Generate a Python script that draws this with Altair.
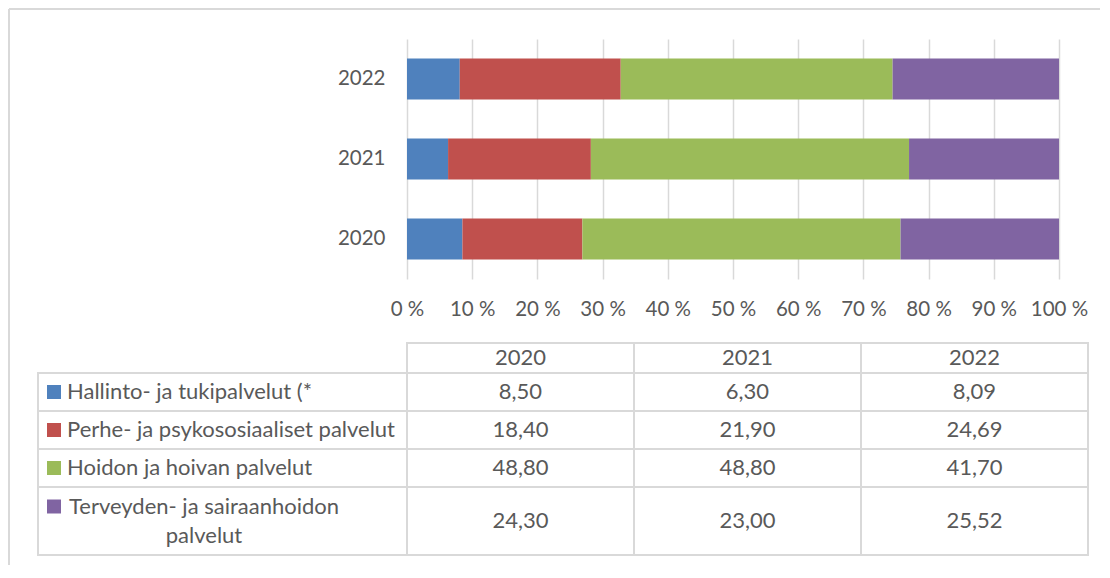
import altair as alt
import pandas as pd

# ---------------- data ----------------
years = ["2020", "2021", "2022"]
categories = [
    "Hallinto- ja tukipalvelut (*",
    "Perhe- ja psykososiaaliset palvelut",
    "Hoidon ja hoivan palvelut",
    "Terveyden- ja sairaanhoidon palvelut",
]
category_lines = [
    "Hallinto- ja tukipalvelut (*",
    "Perhe- ja psykososiaaliset palvelut",
    "Hoidon ja hoivan palvelut",
    "Terveyden- ja sairaanhoidon\npalvelut",
]
hallinto = [8.50, 6.30, 8.09]
perhe = [18.40, 21.90, 24.69]
hoidon = [48.80, 48.80, 41.70]
terveys = [24.30, 23.00, 25.52]
series = [hallinto, perhe, hoidon, terveys]
colors = ["#4f81bd", "#c0504d", "#9bbb59", "#8064a2"]
tick_values = [0, 0.1, 0.2, 0.3, 0.4, 0.5, 0.6, 0.7, 0.8, 0.9, 1.0]

# ---------------- layout / style ----------------
FONT = "Lato"
TXT = "#595959"
GRID = "#d9d9d9"
FS_AXIS = 20.5
FS_TAB = 22
PLOT_W, PLOT_H = 652, 240
TABLE_W = 681
LABEL_COL_W = 369
ROW_HEIGHTS = [30, 38, 38, 38, 68]   # header + 4 category rows
LINE_H = 29
TABLE_H = sum(ROW_HEIGHTS)

# long-form data for bars
rows = []
for ci, (cat, vals) in enumerate(zip(categories, series)):
    for yi, yr in enumerate(years):
        rows.append({"category": cat, "year": yr, "value": vals[yi], "order": ci})
df = pd.DataFrame(rows)

# table data
edges = [0]
for h in ROW_HEIGHTS:
    edges.append(edges[-1] + h)

cell_rows = []
for yi, yr in enumerate(years):
    cell_rows.append({"year": yr, "top": edges[0], "bottom": edges[1],
                      "mid": (edges[0] + edges[1]) / 2, "text": yr})
    for ci, vals in enumerate(series):
        t, b = edges[ci + 1], edges[ci + 2]
        cell_rows.append({"year": yr, "top": t, "bottom": b, "mid": (t + b) / 2,
                          "text": f"{vals[yi]:.2f}".replace(".", ",")})
cells = pd.DataFrame(cell_rows)

lab_rows = []
for ci, cat in enumerate(categories):
    t, b = edges[ci + 1], edges[ci + 2]
    nlines = category_lines[ci].count("\n") + 1
    mid = (t + b) / 2
    lab_rows.append({"category": cat, "label": category_lines[ci], "top": t, "bottom": b,
                     "mid": mid, "first": mid - (nlines - 1) * LINE_H / 2, "multi": nlines > 1})
labels = pd.DataFrame(lab_rows)

color_enc = alt.Color("category:N", scale=alt.Scale(domain=categories, range=colors), legend=None)

# ---------------- top: stacked 100% bars ----------------
bars = alt.Chart(df).mark_bar().encode(
    x=alt.X("value:Q", stack="normalize",
            scale=alt.Scale(domain=[0, 1], nice=False),
            axis=alt.Axis(values=tick_values, title=None, ticks=False, domain=False,
                          grid=True, gridColor=GRID, gridWidth=1.5,
                          labelExpr="format(round(datum.value*100), 'd') + ' %'",
                          labelOverlap=False, labelFlush=False,
                          labelFont=FONT, labelFontSize=FS_AXIS, labelColor=TXT,
                          labelPadding=20)),
    y=alt.Y("year:N", sort=years[::-1],
            scale=alt.Scale(paddingInner=0.49, paddingOuter=0.245),
            axis=alt.Axis(title=None, ticks=False, domain=False, grid=False,
                          labelFont=FONT, labelFontSize=FS_AXIS, labelColor=TXT,
                          labelPadding=22)),
    color=color_enc,
    order=alt.Order("order:Q"),
)

one = pd.DataFrame({"k": [0]})
frame_h = alt.Chart(one).mark_rule(color=GRID, strokeWidth=2).encode(
    x=alt.value(-398), x2=alt.value(693), y=alt.value(-30))
frame_v = alt.Chart(one).mark_rule(color=GRID, strokeWidth=2).encode(
    x=alt.value(-398), y=alt.value(-30), y2=alt.value(526))

top = alt.layer(bars, frame_h, frame_v).properties(width=PLOT_W, height=PLOT_H)

# ---------------- bottom: data table ----------------
xs = alt.Scale(domain=years, paddingInner=0, paddingOuter=0)
ys = alt.Scale(domain=[0, TABLE_H], reverse=True, nice=False, zero=False)

year_cells = alt.Chart(cells).mark_rect(fillOpacity=0, stroke=GRID, strokeWidth=2).encode(
    x=alt.X("year:N", scale=xs, axis=None),
    y=alt.Y("top:Q", scale=ys, axis=None),
    y2="bottom:Q",
)
label_cells = alt.Chart(labels).mark_rect(fillOpacity=0, stroke=GRID, strokeWidth=2).encode(
    x=alt.value(-LABEL_COL_W), x2=alt.value(0),
    y=alt.Y("top:Q", scale=ys, axis=None),
    y2="bottom:Q",
)
cell_text = alt.Chart(cells).mark_text(font=FONT, fontSize=FS_TAB, color=TXT,
                                       align="center", baseline="middle").encode(
    x=alt.X("year:N", scale=xs, axis=None),
    y=alt.Y("mid:Q", scale=ys, axis=None),
    text="text:N",
)
lab_single = alt.Chart(labels).transform_filter("!datum.multi").mark_text(
    font=FONT, fontSize=FS_TAB, color=TXT, align="left", baseline="middle").encode(
    x=alt.value(-340),
    y=alt.Y("mid:Q", scale=ys, axis=None),
    text="label:N",
)
lab_multi = alt.Chart(labels).transform_filter("datum.multi").mark_text(
    font=FONT, fontSize=FS_TAB, color=TXT, align="center", baseline="middle",
    lineBreak="\n", lineHeight=LINE_H).encode(
    x=alt.value(-203),
    y=alt.Y("first:Q", scale=ys, axis=None),
    text="label:N",
)
squares = alt.Chart(labels).mark_square(size=196, opacity=1, filled=True).encode(
    x=alt.value(-353),
    y=alt.Y("first:Q", scale=ys, axis=None),
    color=color_enc,
)

table = alt.layer(year_cells, label_cells, cell_text, lab_single, lab_multi, squares).properties(
    width=TABLE_W, height=TABLE_H)

chart = alt.vconcat(top, table, spacing=64, bounds="flush").resolve_scale(
    x="independent", y="independent"
).properties(padding=0, background="white").configure_view(stroke=None)

chart.save("out.html", embed_options={"renderer": "svg", "actions": False})
